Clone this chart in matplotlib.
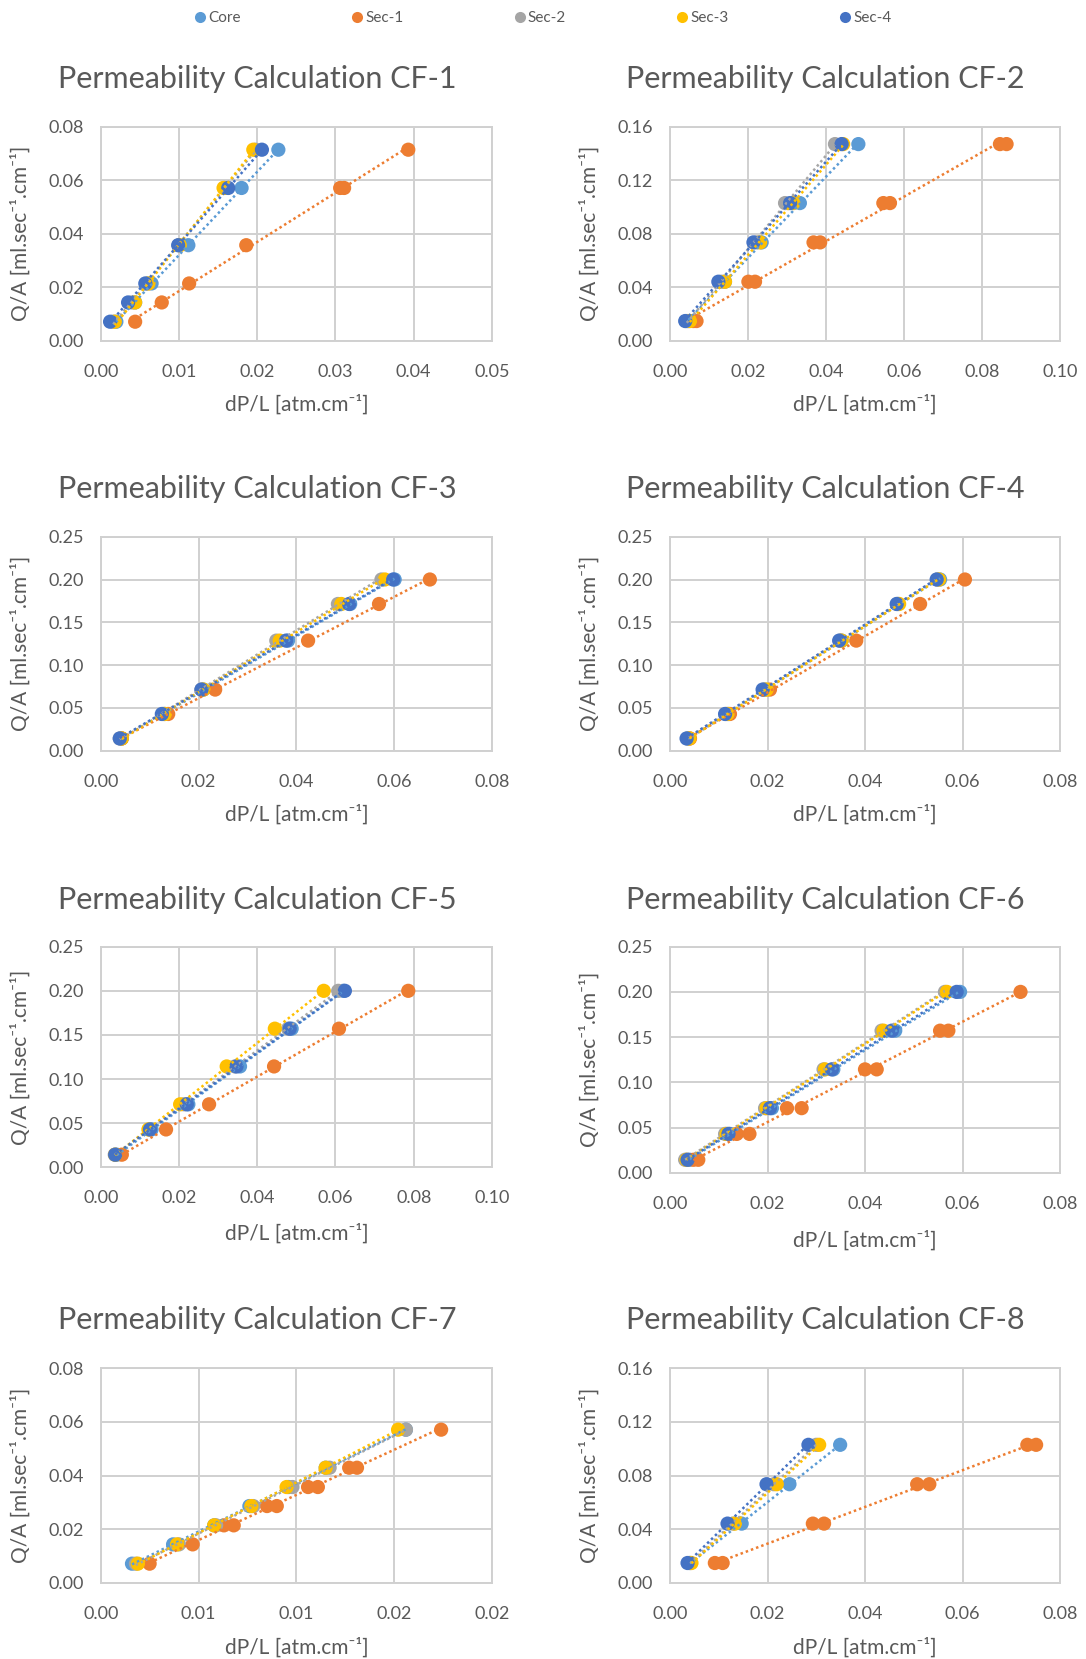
import numpy as np
import matplotlib
matplotlib.use("Agg")
import matplotlib.pyplot as plt
from matplotlib.lines import Line2D

plt.rcParams['font.family'] = ['Lato', 'DejaVu Sans']

SERIES = ["Core", "Sec-1", "Sec-2", "Sec-3", "Sec-4"]
COLORS = ["#5B9BD5", "#ED7D31", "#A5A5A5", "#FFC000", "#4472C4"]

# ---- CF-1 ----
CF1_QA = [0.0071, 0.0143, 0.0214, 0.0357, 0.0571, 0.0714]
CF1_CORE = [0.0020, 0.0044, 0.0065, 0.0112, 0.0180, 0.0227]
CF1_SEC2 = [0.0016, 0.0040, 0.0060, 0.0100, 0.0158, 0.0198]
CF1_SEC3 = [0.0018, 0.0044, 0.0061, 0.0101, 0.0157, 0.0195]
CF1_SEC4 = [0.0012, 0.0035, 0.0057, 0.0099, 0.0163, 0.0206]
CF1_SEC1_QA = [0.0071, 0.0143, 0.0214, 0.0357, 0.0571, 0.0571, 0.0714]
CF1_SEC1 = [0.0044, 0.0078, 0.0113, 0.0186, 0.0306, 0.0311, 0.0393]

# ---- CF-2 ----
CF2_QA = [0.0147, 0.0441, 0.0735, 0.1029, 0.1470]
CF2_CORE = [0.0047, 0.0141, 0.0235, 0.0333, 0.0483]
CF2_SEC2 = [0.0043, 0.0132, 0.0222, 0.0295, 0.0423]
CF2_SEC3 = [0.0051, 0.0141, 0.0231, 0.0316, 0.0444]
CF2_SEC4 = [0.0039, 0.0124, 0.0214, 0.0308, 0.0440]
CF2_SEC1_QA = [0.0147, 0.0147, 0.0441, 0.0441, 0.0735, 0.0735, 0.1029, 0.1029, 0.1470, 0.1470]
CF2_SEC1 = [0.0060, 0.0068, 0.0201, 0.0218, 0.0368, 0.0385, 0.0547, 0.0564, 0.0846, 0.0863]

# ---- CF-3 ----
CF3_QA = [0.0143, 0.0429, 0.0714, 0.1286, 0.1714, 0.2000]
CF3_CORE = [0.0043, 0.0131, 0.0210, 0.0383, 0.0510, 0.0601]
CF3_SEC2 = [0.0039, 0.0128, 0.0206, 0.0359, 0.0485, 0.0574]
CF3_SEC3 = [0.0043, 0.0131, 0.0210, 0.0366, 0.0492, 0.0581]
CF3_SEC4 = [0.0039, 0.0125, 0.0206, 0.0379, 0.0508, 0.0598]
CF3_SEC1_QA = [0.0143, 0.0429, 0.0714, 0.1286, 0.1714, 0.2000]
CF3_SEC1 = [0.0043, 0.0138, 0.0234, 0.0424, 0.0569, 0.0673]

# ---- CF-4 ----
CF4_QA = [0.0143, 0.0429, 0.0714, 0.1286, 0.1714, 0.2000]
CF4_CORE = [0.0038, 0.0120, 0.0195, 0.0352, 0.0468, 0.0554]
CF4_SEC2 = [0.0036, 0.0115, 0.0193, 0.0349, 0.0466, 0.0548]
CF4_SEC3 = [0.0040, 0.0118, 0.0198, 0.0352, 0.0470, 0.0552]
CF4_SEC4 = [0.0034, 0.0113, 0.0190, 0.0347, 0.0465, 0.0547]
CF4_SEC1_QA = [0.0143, 0.0429, 0.0714, 0.1286, 0.1714, 0.2000]
CF4_SEC1 = [0.0041, 0.0123, 0.0205, 0.0382, 0.0513, 0.0605]

# ---- CF-5 ----
CF5_QA = [0.0143, 0.0429, 0.0714, 0.1143, 0.1571, 0.2000]
CF5_CORE = [0.0041, 0.0130, 0.0224, 0.0356, 0.0488, 0.0620]
CF5_SEC2 = [0.0036, 0.0124, 0.0213, 0.0343, 0.0479, 0.0607]
CF5_SEC3 = [0.0037, 0.0122, 0.0203, 0.0322, 0.0445, 0.0570]
CF5_SEC4 = [0.0037, 0.0126, 0.0220, 0.0347, 0.0483, 0.0624]
CF5_SEC1_QA = [0.0143, 0.0429, 0.0714, 0.1143, 0.1571, 0.2000]
CF5_SEC1 = [0.0054, 0.0167, 0.0277, 0.0443, 0.0609, 0.0786]

# ---- CF-6 ----
CF6_QA = [0.0143, 0.0429, 0.0714, 0.1143, 0.1571, 0.2000]
CF6_CORE = [0.0040, 0.0123, 0.0209, 0.0335, 0.0462, 0.0595]
CF6_SEC2 = [0.0031, 0.0113, 0.0195, 0.0315, 0.0434, 0.0564]
CF6_SEC3 = [0.0034, 0.0116, 0.0198, 0.0318, 0.0438, 0.0568]
CF6_SEC4 = [0.0036, 0.0120, 0.0205, 0.0332, 0.0455, 0.0588]
CF6_SEC1_QA = [0.0143, 0.0143, 0.0429, 0.0429, 0.0714, 0.0714,
               0.1143, 0.1143, 0.1571, 0.1571, 0.2000]
CF6_SEC1 = [0.0048, 0.0058, 0.0137, 0.0163, 0.0240, 0.0270,
            0.0400, 0.0424, 0.0554, 0.0571, 0.0719]

# ---- CF-7 ----
CF7_QA = [0.0071, 0.0143, 0.0214, 0.0286, 0.0357, 0.0429, 0.0571]
CF7_CORE = [0.0016, 0.0037, 0.0058, 0.0076, 0.0096, 0.0115, 0.0156]
CF7_SEC2 = [0.0018, 0.0040, 0.0059, 0.0078, 0.0098, 0.0117, 0.0156]
CF7_SEC3 = [0.0019, 0.0039, 0.0058, 0.0077, 0.0095, 0.0115, 0.0152]
CF7_SEC4 = []
CF7_SEC1_QA = [0.0071, 0.0143, 0.0214, 0.0214, 0.0286, 0.0286,
               0.0357, 0.0357, 0.0429, 0.0429, 0.0571]
CF7_SEC1 = [0.0025, 0.0047, 0.0063, 0.0068, 0.0085, 0.0090,
            0.0106, 0.0111, 0.0127, 0.0131, 0.0174]

# ---- CF-8 ----
CF8_QA = [0.0147, 0.0441, 0.0735, 0.1029]
CF8_CORE = [0.0041, 0.0147, 0.0245, 0.0349]
CF8_SEC2 = [0.0041, 0.0129, 0.0213, 0.0300]
CF8_SEC3 = [0.0044, 0.0133, 0.0219, 0.0306]
CF8_SEC4 = [0.0036, 0.0118, 0.0198, 0.0284]
CF8_SEC1_QA = [0.0147, 0.0147, 0.0441, 0.0441, 0.0735, 0.0735, 0.1029, 0.1029]
CF8_SEC1 = [0.0092, 0.0108, 0.0293, 0.0316, 0.0507, 0.0532, 0.0733, 0.0751]

# tick labels on the CF-7 x axis (two-decimal display of 0.005 steps)
X_TICKS_CF7 = ["0.00", "0.01", "0.01", "0.02", "0.02"]

# axis scales per panel: (x max, x step, y max, y step)
panels = [
    ("CF-1", CF1_QA, CF1_CORE, CF1_SEC1_QA, CF1_SEC1, CF1_SEC2, CF1_SEC3, CF1_SEC4, (0.05, 0.01, 0.08, 0.02)),
    ("CF-2", CF2_QA, CF2_CORE, CF2_SEC1_QA, CF2_SEC1, CF2_SEC2, CF2_SEC3, CF2_SEC4, (0.10, 0.02, 0.16, 0.04)),
    ("CF-3", CF3_QA, CF3_CORE, CF3_SEC1_QA, CF3_SEC1, CF3_SEC2, CF3_SEC3, CF3_SEC4, (0.08, 0.02, 0.25, 0.05)),
    ("CF-4", CF4_QA, CF4_CORE, CF4_SEC1_QA, CF4_SEC1, CF4_SEC2, CF4_SEC3, CF4_SEC4, (0.08, 0.02, 0.25, 0.05)),
    ("CF-5", CF5_QA, CF5_CORE, CF5_SEC1_QA, CF5_SEC1, CF5_SEC2, CF5_SEC3, CF5_SEC4, (0.10, 0.02, 0.25, 0.05)),
    ("CF-6", CF6_QA, CF6_CORE, CF6_SEC1_QA, CF6_SEC1, CF6_SEC2, CF6_SEC3, CF6_SEC4, (0.08, 0.02, 0.25, 0.05)),
    ("CF-7", CF7_QA, CF7_CORE, CF7_SEC1_QA, CF7_SEC1, CF7_SEC2, CF7_SEC3, CF7_SEC4, (0.02, 0.005, 0.08, 0.02)),
    ("CF-8", CF8_QA, CF8_CORE, CF8_SEC1_QA, CF8_SEC1, CF8_SEC2, CF8_SEC3, CF8_SEC4, (0.08, 0.02, 0.16, 0.04)),
]

W, H = 1086, 1659
TEXT = "#595959"
GRID = "#D0D0D0"

fig = plt.figure(figsize=(W / 100, H / 100), dpi=100)

# plot-area boxes in pixels: (left, top, right, bottom)
col_lr = [(100.7, 492.0), (670.0, 1060.0)]
row_tb = [[(126.7, 340.7), (126.7, 340.7)],
          [(536.7, 750.7), (536.7, 750.7)],
          [(946.7, 1167.3), (946.7, 1172.7)],
          [(1368.3, 1582.7), (1368.3, 1582.7)]]
title_y = [79, 489, 900, 1320]
title_x = [257, 825]
ylabel_x = [21, 590]


def trend(ax, x, y, color):
    coef = np.polyfit(x, y, 1)
    xs = np.array([min(x), max(x)])
    ax.plot(xs, np.polyval(coef, xs), color=color, lw=1.8,
            ls=(0, (1.0, 1.2)), zorder=4, solid_capstyle="butt")


for i, (name, qa, core, s1qa, s1, s2, s3, s4, scale) in enumerate(panels):
    r, c = divmod(i, 2)
    l, rr = col_lr[c]
    t, b = row_tb[r][c]
    ax = fig.add_axes([l / W, 1 - b / H, (rr - l) / W, (b - t) / H])
    xmax, xstep, ymax, ystep = scale

    data = [(core, qa), (s1, s1qa), (s2, qa), (s3, qa), (s4, qa)]
    for (x, y), col in zip(data, COLORS):
        if len(x):
            ax.scatter(x, y, s=105, color=col, edgecolors="none", zorder=3)
    for (x, y), col in zip(data, COLORS):
        if len(x):
            trend(ax, x, y, col)

    ax.set_xlim(0, xmax)
    ax.set_ylim(0, ymax)
    xt = np.arange(0, xmax + xstep / 2, xstep)
    yt = np.arange(0, ymax + ystep / 2, ystep)
    ax.set_xticks(xt)
    ax.set_yticks(yt)
    if name == "CF-7":
        ax.set_xticklabels(X_TICKS_CF7)
    else:
        ax.set_xticklabels([f"{v:.2f}" for v in xt])
    ax.set_yticklabels([f"{v:.2f}" for v in yt])
    ax.tick_params(length=0, labelsize=13, colors=TEXT)
    ax.tick_params(axis="x", pad=16.5)
    ax.tick_params(axis="y", pad=12)
    ax.grid(True, color=GRID, lw=1.4)
    ax.set_axisbelow(True)
    for sp in ax.spines.values():
        sp.set_color(GRID)
        sp.set_linewidth(1.4)

    fig.text(title_x[c] / W, 1 - title_y[r] / H, f"Permeability Calculation {name}",
             ha="center", va="center", fontsize=22, color=TEXT)
    ax.text(0.5, -0.30, "dP/L [atm.cm\u207b\u00b9]", transform=ax.transAxes,
            ha="center", va="center", fontsize=15, color=TEXT)
    fig.text(ylabel_x[c] / W, 1 - ((t + b) / 2) / H, "Q/A [ml.sec\u207b\u00b9.cm\u207b\u00b9]",
             rotation=90, ha="center", va="center", fontsize=15, color=TEXT)

handles = [Line2D([], [], marker="o", ls="none", markersize=8, color=col,
                  markeredgewidth=0) for col in COLORS]
fig.legend(handles, SERIES, loc="center", bbox_to_anchor=(0.499, 1 - 18 / H),
           ncol=5, frameon=False, fontsize=11, handletextpad=0.05,
           columnspacing=7.1, handlelength=1.0, labelcolor=TEXT)

fig.savefig("out.png", dpi=100, facecolor="white")
